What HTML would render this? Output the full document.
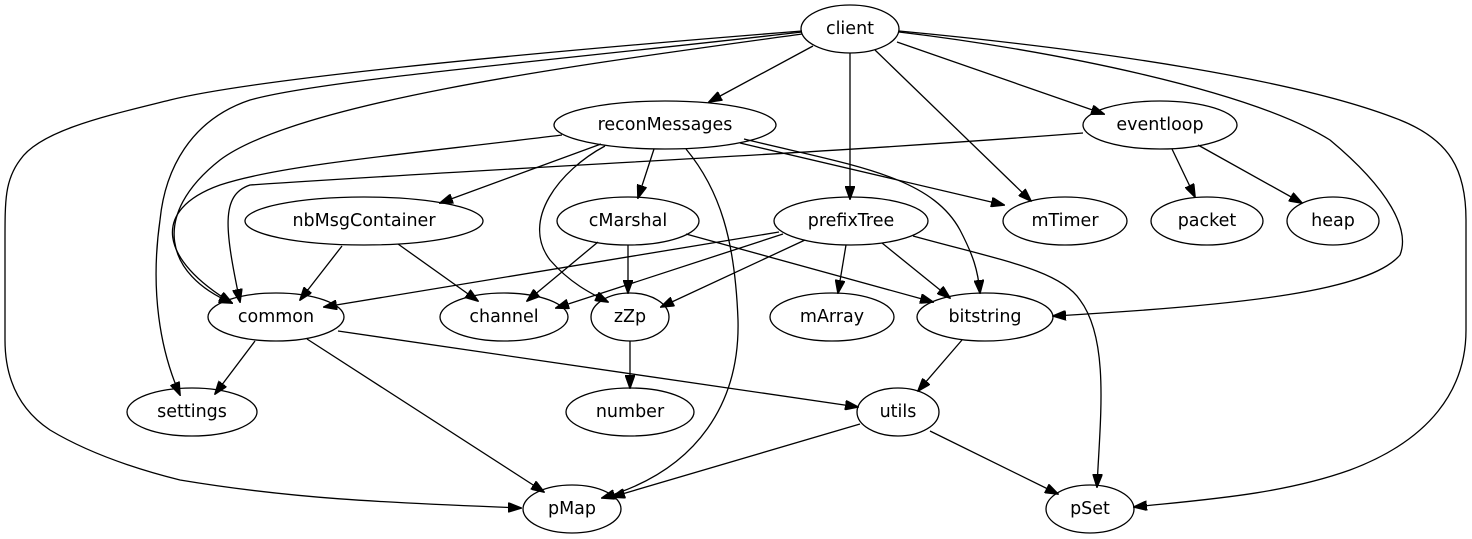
<!DOCTYPE html>
<html><head><meta charset="utf-8"><style>
html,body{margin:0;padding:0;background:#fff;}
svg{display:block;}
text{font-family:"DejaVu Sans","Liberation Sans",sans-serif;font-size:17.5px;fill:#000;text-anchor:middle;dominant-baseline:central;}
ellipse{fill:none;stroke:#000;stroke-width:1.3;}
path{fill:none;stroke:#000;stroke-width:1.3;}
</style></head><body>
<svg width="1472" height="539" viewBox="0 0 1472 539" xmlns="http://www.w3.org/2000/svg">
<defs><marker id="a" markerWidth="14" markerHeight="10" refX="13" refY="5" orient="auto" markerUnits="userSpaceOnUse"><path d="M0,0 L14,5 L0,10 Z" style="fill:#000;stroke:#000;stroke-width:1"/></marker></defs>
<g marker-end="url(#a)">
<path d="M813,46 L709,102"/>
<path d="M897,42 L1104,114"/>
<path d="M850,53 L850,199"/>
<path d="M875,50 L1031,201"/>
<path d="M802,34 C600,62 300,100 220,160 C150,215 165,275 232,303"/>
<path d="M802,32 C560,60 320,80 250,100 C190,120 165,170 160,220 C150,290 160,350 180,395"/>
<path d="M802,31 C500,55 250,80 170,100 C110,115 40,130 20,160 C5,180 5,200 5,240 L5,340 C5,380 20,410 50,430 C80,448 120,465 180,480 C300,500 400,503 521,508"/>
<path d="M899,32 C1050,50 1250,90 1330,140 C1390,190 1410,230 1400,255 C1370,290 1250,305 1053,316"/>
<path d="M899,31 C1100,50 1300,80 1400,120 C1450,140 1466,170 1466,220 L1466,330 C1466,390 1430,440 1350,470 C1280,495 1200,500 1134,507"/>
<path d="M601,144 L440,203"/>
<path d="M654,149 L638,198"/>
<path d="M740,143 L1004,205"/>
<path d="M744,139 C850,165 930,175 960,230 C973,255 978,270 980,293"/>
<path d="M562,135 C400,155 280,165 220,185 C150,210 160,260 232,303"/>
<path d="M605,146 C560,170 520,220 550,260 C570,283 590,293 608,302"/>
<path d="M686,149 C720,190 735,240 738,320 C740,400 700,470 602,498"/>
<path d="M1083,133 C800,155 550,165 250,185 C220,195 225,230 240,302"/>
<path d="M1172,149 L1195,197"/>
<path d="M1198,145 L1302,203"/>
<path d="M342,246 L300,300"/>
<path d="M398,244 L478,301"/>
<path d="M628,245 L628,293"/>
<path d="M598,242 L527,301"/>
<path d="M686,234 L933,302"/>
<path d="M779,232 L324,307"/>
<path d="M783,234 L556,308"/>
<path d="M805,240 L661,307"/>
<path d="M846,245 L838,293"/>
<path d="M882,243 L950,298"/>
<path d="M913,236 C1000,260 1060,270 1080,300 C1110,340 1100,420 1097,487"/>
<path d="M255,341 L215,394"/>
<path d="M338,331 L858,407"/>
<path d="M307,339 L544,492"/>
<path d="M630,341 L630,388"/>
<path d="M962,340 L918,391"/>
<path d="M860,424 L612,497"/>
<path d="M930,431 L1058,494"/>
</g>
<ellipse cx="850" cy="29" rx="49" ry="24"/><text x="850" y="29">client</text>
<ellipse cx="665" cy="125" rx="111" ry="24"/><text x="665" y="125">reconMessages</text>
<ellipse cx="1160" cy="125" rx="77" ry="24"/><text x="1160" y="125">eventloop</text>
<ellipse cx="364" cy="221" rx="119" ry="24"/><text x="364" y="221">nbMsgContainer</text>
<ellipse cx="628" cy="221" rx="71" ry="24"/><text x="628" y="221">cMarshal</text>
<ellipse cx="851" cy="221" rx="77" ry="24"/><text x="851" y="221">prefixTree</text>
<ellipse cx="1065" cy="221" rx="62" ry="24"/><text x="1065" y="221">mTimer</text>
<ellipse cx="1207" cy="221" rx="56" ry="24"/><text x="1207" y="221">packet</text>
<ellipse cx="1333" cy="221" rx="46" ry="24"/><text x="1333" y="221">heap</text>
<ellipse cx="276" cy="317" rx="68" ry="24"/><text x="276" y="317">common</text>
<ellipse cx="504" cy="317" rx="64" ry="24"/><text x="504" y="317">channel</text>
<ellipse cx="630" cy="317" rx="39" ry="24"/><text x="630" y="317">zZp</text>
<ellipse cx="832" cy="317" rx="62" ry="24"/><text x="832" y="317">mArray</text>
<ellipse cx="985" cy="317" rx="68" ry="24"/><text x="985" y="317">bitstring</text>
<ellipse cx="192" cy="412" rx="65" ry="24"/><text x="192" y="412">settings</text>
<ellipse cx="630" cy="412" rx="64" ry="24"/><text x="630" y="412">number</text>
<ellipse cx="898" cy="412" rx="41" ry="24"/><text x="898" y="412">utils</text>
<ellipse cx="572" cy="509" rx="49" ry="24"/><text x="572" y="509">pMap</text>
<ellipse cx="1090" cy="509" rx="44" ry="24"/><text x="1090" y="509">pSet</text>
</svg>
</body></html>
